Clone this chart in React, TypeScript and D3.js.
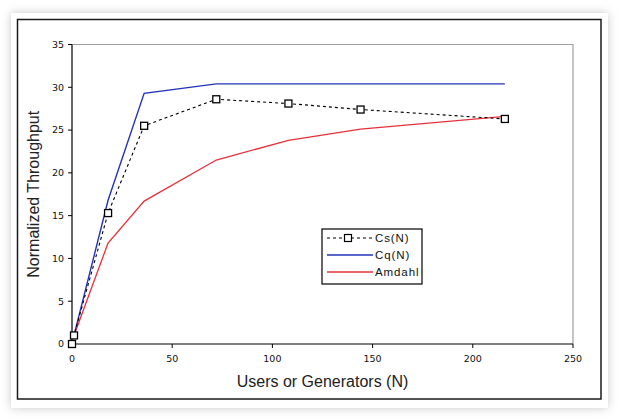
import React from "react";
import * as d3 from "d3";

const usersCs = [0, 1, 18, 36, 72, 108, 144, 216];
const valuesCs = [0, 1.0, 15.3, 25.5, 28.6, 28.1, 27.4, 26.3];
const usersModel = [1, 18, 36, 72, 108, 144, 216];
const valuesCq = [1.0, 16.8, 29.3, 30.4, 30.4, 30.4, 30.4];
const valuesAmdahl = [1.0, 11.8, 16.7, 21.5, 23.8, 25.1, 26.6];
const xTicks = [0, 50, 100, 150, 200, 250];
const yTicks = [0, 5, 10, 15, 20, 25, 30, 35];
const legendLabels = ["Cs(N)", "Cq(N)", "Amdahl"];

const W = 619;
const H = 419;
const L = 72, R = 573, T = 44.5, B = 344;

export default function App() {
  const x = d3.scaleLinear().domain([0, 250]).range([L, R]);
  const y = d3.scaleLinear().domain([0, 35]).range([B, T]);
  type P = [number, number];
  const line = d3.line<P>().x((d) => x(d[0])).y((d) => y(d[1]));
  const cs: P[] = usersCs.map((u, i) => [u, valuesCs[i]]);
  const cq: P[] = usersModel.map((u, i) => [u, valuesCq[i]]);
  const am: P[] = usersModel.map((u, i) => [u, valuesAmdahl[i]]);
  const tickFont = "'DejaVu Sans', Verdana, sans-serif";
  const titleFont = "'Liberation Sans', Arial, sans-serif";
  const lg = { x0: 322, y0: 229, x1: 422, y1: 284 };
  const rowY = [238, 255, 272];
  return (
    <svg width={W} height={H} style={{ position: "absolute", left: 0, top: 0 }}>
      <defs>
        <filter id="sh" x="-5%" y="-5%" width="110%" height="110%">
          <feDropShadow dx="0" dy="0" stdDeviation="5" floodColor="#888" floodOpacity="0.45" />
        </filter>
        <clipPath id="lgclip">
          <rect x={lg.x0} y={lg.y0} width={lg.x1 - lg.x0} height={lg.y1 - lg.y0} />
        </clipPath>
      </defs>
      <rect x={0} y={0} width={W} height={H} fill="#fff" />
      <rect x={11} y={13} width={597} height={395} fill="#fff" filter="url(#sh)" />
      <rect x={17.5} y={19.5} width={583.5} height={379.5} fill="#fff" stroke="#1a1a1a" strokeWidth={1.5} />

      {/* plot area border */}
      <path d={`M${L},${T}H${R}V${B}`} fill="none" stroke="#a0a0a0" strokeWidth={1.2} />
      {/* axes */}
      <line x1={L} y1={T} x2={L} y2={B} stroke="#000" strokeWidth={1.2} />
      <line x1={L} y1={B} x2={R} y2={B} stroke="#000" strokeWidth={1.2} />
      {yTicks.map((t) => (
        <g key={"y" + t}>
          <line x1={L - 4} x2={L} y1={y(t)} y2={y(t)} stroke="#000" strokeWidth={1} />
          <text x={L - 8} y={y(t)} dy="0.35em" textAnchor="end" fontFamily={tickFont} fontSize={9.5} fill="#111">
            {t}
          </text>
        </g>
      ))}
      {xTicks.map((t) => (
        <g key={"x" + t}>
          <line x1={x(t)} x2={x(t)} y1={B} y2={B + 4} stroke="#000" strokeWidth={1} />
          <text x={x(t)} y={362} textAnchor="middle" fontFamily={tickFont} fontSize={9.5} fill="#111">
            {t}
          </text>
        </g>
      ))}
      <text
        transform={`translate(39,${(T + B) / 2}) rotate(-90)`}
        textAnchor="middle"
        fontFamily={titleFont}
        fontSize={16}
        fill="#222"
      >
        Normalized Throughput
      </text>
      <text x={(L + R) / 2} y={387} textAnchor="middle" fontFamily={titleFont} fontSize={16} fill="#222">
        Users or Generators (N)
      </text>

      {/* series */}
      <path d={line(am) || ""} fill="none" stroke="#e8303a" strokeWidth={1.3} />
      <path d={line(cq) || ""} fill="none" stroke="#2233bb" strokeWidth={1.4} />
      <path d={line(cs) || ""} fill="none" stroke="#000" strokeWidth={1.1} strokeDasharray="3,3" />
      {cs.map((d, i) => (
        <rect key={"m" + i} x={x(d[0]) - 3.5} y={y(d[1]) - 3.5} width={7} height={7} fill="#fff" stroke="#000" strokeWidth={1.3} />
      ))}

      {/* legend */}
      <rect x={lg.x0} y={lg.y0} width={lg.x1 - lg.x0} height={lg.y1 - lg.y0} fill="#fff" stroke="#000" strokeWidth={1.2} />
      <g clipPath="url(#lgclip)">
        <line x1={327} x2={373} y1={rowY[0]} y2={rowY[0]} stroke="#000" strokeWidth={1.1} strokeDasharray="3,3" />
        <rect x={344.5} y={rowY[0] - 3.5} width={7} height={7} fill="#fff" stroke="#000" strokeWidth={1.2} />
        <line x1={327} x2={373} y1={rowY[1]} y2={rowY[1]} stroke="#2233bb" strokeWidth={1.4} />
        <line x1={327} x2={373} y1={rowY[2]} y2={rowY[2]} stroke="#e8303a" strokeWidth={1.3} />
        {legendLabels.map((l, i) => (
          <text key={l} x={375} y={rowY[i]} dy="0.35em" fontFamily={titleFont} fontSize={11.5} letterSpacing={0.9} fill="#111">
            {l}
          </text>
        ))}
      </g>
    </svg>
  );
}
